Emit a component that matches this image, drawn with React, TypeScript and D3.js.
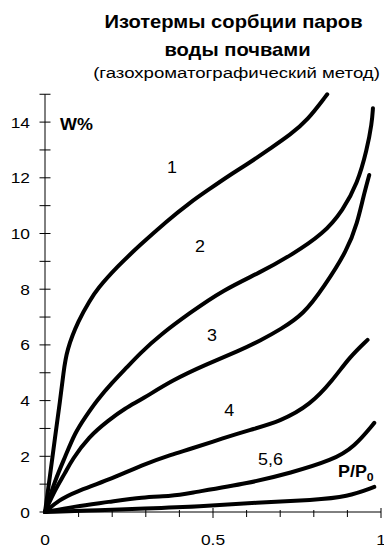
import React from "react";
import * as d3 from "d3";

const curve1: [number, number][] = [[0,0],[0.015,1.3],[0.03,2.7],[0.045,4.0],[0.055,5.0],[0.064,5.8],[0.1,6.9],[0.134,7.6],[0.155,8.0],[0.214,8.8],[0.283,9.59],[0.363,10.45],[0.43,11.1],[0.49,11.6],[0.55,12.1],[0.61,12.55],[0.67,13.05],[0.73,13.55],[0.78,14.05],[0.84,15.0]];
const curve2: [number, number][] = [[0,0],[0.03,1.15],[0.06,1.98],[0.089,2.84],[0.12,3.41],[0.155,4.02],[0.2,4.65],[0.244,5.2],[0.283,5.7],[0.342,6.35],[0.43,7.14],[0.53,7.97],[0.64,8.6],[0.73,9.2],[0.83,10.0],[0.887,10.84],[0.93,11.8],[0.958,13.0],[0.973,13.97],[0.976,14.5]];
const curve3: [number, number][] = [[0,0],[0.03,0.8],[0.06,1.4],[0.08,1.87],[0.13,2.7],[0.19,3.3],[0.238,3.72],[0.289,4.05],[0.38,4.74],[0.48,5.3],[0.58,5.8],[0.64,6.15],[0.70,6.55],[0.77,7.1],[0.83,8.08],[0.9,9.4],[0.93,10.4],[0.947,11.3],[0.965,12.1]];
const curve4: [number, number][] = [[0,0],[0.042,0.43],[0.089,0.72],[0.19,1.15],[0.289,1.69],[0.38,2.08],[0.43,2.25],[0.53,2.65],[0.61,2.95],[0.70,3.25],[0.79,3.85],[0.857,4.74],[0.907,5.57],[0.96,6.18]];
const curve5: [number, number][] = [[0,0],[0.089,0.2],[0.19,0.36],[0.289,0.54],[0.38,0.57],[0.43,0.68],[0.61,1.04],[0.73,1.4],[0.857,1.87],[0.92,2.33],[0.98,3.2]];
const curve6: [number, number][] = [[0,0],[0.164,0.07],[0.289,0.12],[0.46,0.19],[0.63,0.34],[0.8,0.43],[0.9,0.54],[0.98,0.9]];
const curves = [curve1, curve2, curve3, curve4, curve5, curve6];

const yTickLabels = [0, 2, 4, 6, 8, 10, 12, 14];
const yMinorTicks = d3.range(0, 16);
const xTickLabels: [number, string][] = [[0, "0"], [0.5, "0.5"], [1, "1"]];
const xMinorTicks = d3.range(1, 11).map((d) => d / 10);

const curveLabels: [string, number, number][] = [
  ["1", 0.378, 12.17],
  ["2", 0.461, 9.34],
  ["3", 0.497, 6.14],
  ["4", 0.548, 3.45],
  ["5,6", 0.671, 1.69],
];

const titleLines = ["Изотермы сорбции паров", "воды почвами"];
const subtitle = "(газохроматографический метод)";

const SX = 1.12;

function T(props: {
  x: number;
  y: number;
  anchor?: "start" | "middle" | "end";
  size: number;
  bold?: boolean;
  sx?: number;
  children: React.ReactNode;
}) {
  const sx = props.sx ?? SX;
  return (
    <text
      transform={`translate(${props.x},${props.y}) scale(${sx},1)`}
      textAnchor={props.anchor || "start"}
      fontSize={props.size}
      fontWeight={props.bold ? "bold" : "normal"}
      fill="#000"
    >
      {props.children}
    </text>
  );
}

export default function App() {
  const x = d3.scaleLinear().domain([0, 1]).range([45, 381]);
  const y = d3.scaleLinear().domain([0, 15]).range([512, 94.25]);
  const line = d3
    .line<[number, number]>()
    .x((d) => x(d[0]))
    .y((d) => y(d[1]))
    .curve(d3.curveBasis);
  const font = "'Liberation Sans', Arial, sans-serif";
  return (
    <svg
      width={384}
      height={547}
      style={{ position: "absolute", left: 0, top: 0, background: "#fff" }}
      fontFamily={font}
    >
      <rect width={384} height={547} fill="#fff" />
      <T x={233.5} y={28} anchor="middle" size={18} bold>{titleLines[0]}</T>
      <T x={237.5} y={56} anchor="middle" size={18} bold>{titleLines[1]}</T>
      <T x={236.5} y={78} anchor="middle" size={15.5} sx={1.2}>{subtitle}</T>
      {/* y axis */}
      <line x1={x(0)} x2={x(0)} y1={y(0)} y2={y(15)} stroke="#000" strokeWidth={1} />
      {yMinorTicks.map((t) => (
        <line key={"ym" + t} x1={x(0) - 5.5} x2={x(0) + 5.5} y1={y(t)} y2={y(t)} stroke="#000" strokeWidth={1} />
      ))}
      {yTickLabels.map((t) => (
        <T key={"yl" + t} x={30} y={y(t) + 5.5} anchor="end" size={15.5}>{t}</T>
      ))}
      {/* x axis */}
      <line x1={x(0)} x2={x(1)} y1={y(0)} y2={y(0)} stroke="#000" strokeWidth={1} />
      {xMinorTicks.map((t) => (
        <line
          key={"xm" + t}
          x1={x(t)}
          x2={x(t)}
          y1={y(0) - (t === 0.5 || t === 1 ? 4 : 2)}
          y2={y(0) + (t === 0.5 || t === 1 ? 6 : 5)}
          stroke="#000"
          strokeWidth={1}
        />
      ))}
      {xTickLabels.map(([t, s]) => (
        <T key={"xl" + t} x={x(t)} y={545} anchor="middle" size={15.5}>{s}</T>
      ))}
      {curves.map((c, i) => (
        <path
          key={"c" + i}
          d={line(c) || ""}
          fill="none"
          stroke="#000"
          strokeWidth={4}
          strokeLinejoin="round"
          strokeLinecap="round"
        />
      ))}
      {curveLabels.map(([s, cx, cy]) => (
        <T key={"lab" + s} x={x(cx)} y={y(cy)} anchor="middle" size={16}>{s}</T>
      ))}
      <T x={60} y={130} size={16} bold>W%</T>
      <T x={338} y={477} size={16} bold>
        P/P<tspan fontSize={11} dy={4}>0</tspan>
      </T>
    </svg>
  );
}
